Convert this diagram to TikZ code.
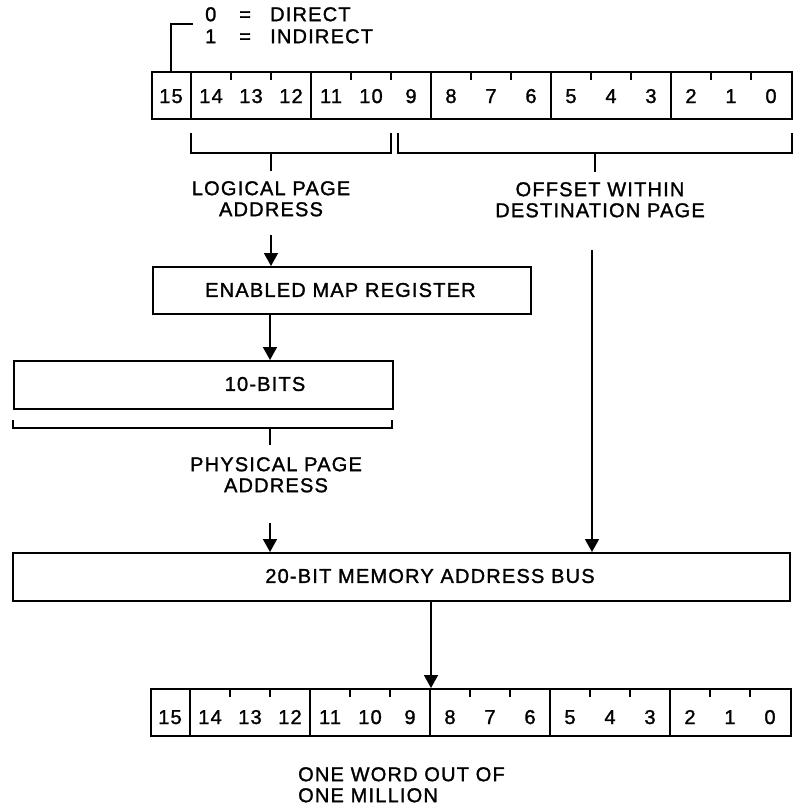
\documentclass[tikz,border=0pt]{standalone}
\usepackage{fontspec}
\setmainfont{Liberation Sans}[LetterSpace=6, FakeBold=1.4]
\usetikzlibrary{arrows.meta}
\tikzset{
  lbl/.style={inner sep=0pt, font=\fontsize{20}{21}\selectfont},
  box/.style={draw, line width=2.4pt, inner sep=0pt, anchor=north west},
  reg/.style={draw, line width=2.4pt, inner sep=0pt, anchor=north west, minimum width=640pt, minimum height=47pt},
  thinln/.style={line width=1.5pt},
  arr/.style={line width=1.5pt, -{Triangle[length=13pt,width=14pt]}},
  brk/.style={line width=1.8pt},
}
\begin{document}
\begin{tikzpicture}[x=1pt,y=-1pt]
\useasboundingbox (0,0) rectangle (796,809);

% ---------- top register ----------
\node[reg] (top) at (151,71) {};
\foreach \x in {191,311,431,551,671} \draw[thinln] (\x,71) -- (\x,118);
\foreach \x in {231,271,351,391,471,511,591,631,711,751} \draw[thinln] (\x,71) -- (\x,80);
\foreach \i in {0,...,15} \node[lbl, anchor=base] (t\i) at ({151+(15-\i)*40+20},103) {\i};

% direct / indirect note
\node[lbl, anchor=north west, align=left] (note) at (205,7)
  {\makebox[34pt][l]{0}\makebox[31pt][l]{=}DIRECT\\[1pt]\makebox[34pt][l]{1}\makebox[31pt][l]{=}INDIRECT};
\coordinate (noteend) at (193,24);
\draw[brk] (top.north west -| t15) -- (t15 |- noteend) -- (noteend);

% brackets under top register
\draw[brk] (191,133) -- (191,153) -- (391,153) -- (391,133);
\draw[brk] (271,153) -- (271,171);
\draw[brk] (398,133) -- (398,153) -- (792,153) -- (792,133);
\draw[brk] (595,153) -- (595,172);

\node[lbl, anchor=north, align=center] (lpa) at (271,181) {LOGICAL PAGE\\ADDRESS};
\node[lbl, anchor=north, align=center] (off) at (600,182) {OFFSET WITHIN\\DESTINATION PAGE};

% enabled map register
\node[box, minimum width=378pt, minimum height=47pt] (emr) at (152,266) {};
\node[lbl, anchor=west] (emrtxt) at (205,290) {ENABLED MAP REGISTER};
\coordinate (a1) at (271,235);
\draw[arr] (a1) -- (a1 |- emr.north);

% 10-bits
\node[box, minimum width=379pt, minimum height=48pt] (tenb) at (13,360) {};
\node[lbl] (tentxt) at (265,384) {10-BITS};
\coordinate (a2) at (270,0);
\draw[arr] (emr.south -| a2) -- (tenb.north -| a2);

\draw[brk] (13,420) -- (13,428) -- (392,428) -- (392,420);
\draw[brk] (270,428) -- (270,445);
\node[lbl, anchor=north, align=center] (ppa) at (276,457) {PHYSICAL PAGE\\ADDRESS};

% 20-bit bus
\node[box, minimum width=777pt, minimum height=48pt] (bus) at (12,552) {};
\node[lbl] (bustxt) at (430,576) {20-BIT MEMORY ADDRESS BUS};
\coordinate (a3) at (270,523);
\draw[arr] (a3) -- (a3 |- bus.north);
\coordinate (a4) at (592,250);
\draw[arr] (a4) -- (a4 |- bus.north);

% bottom register
\node[reg] (bot) at (150,688) {};
\foreach \x in {190,310,430,550,670} \draw[thinln] (\x,688) -- (\x,735);
\foreach \x in {230,270,350,390,470,510,590,630,710,750} \draw[thinln] (\x,688) -- (\x,697);
\foreach \i in {0,...,15} \node[lbl, anchor=base] (b\i) at ({150+(15-\i)*40+20},724) {\i};
\coordinate (a5) at (431,0);
\draw[arr] (bus.south -| a5) -- (bot.north -| a5);

\node[lbl, anchor=north west, align=left] (owm) at (298,767) {ONE WORD OUT OF\\ONE MILLION};
\end{tikzpicture}
\end{document}
